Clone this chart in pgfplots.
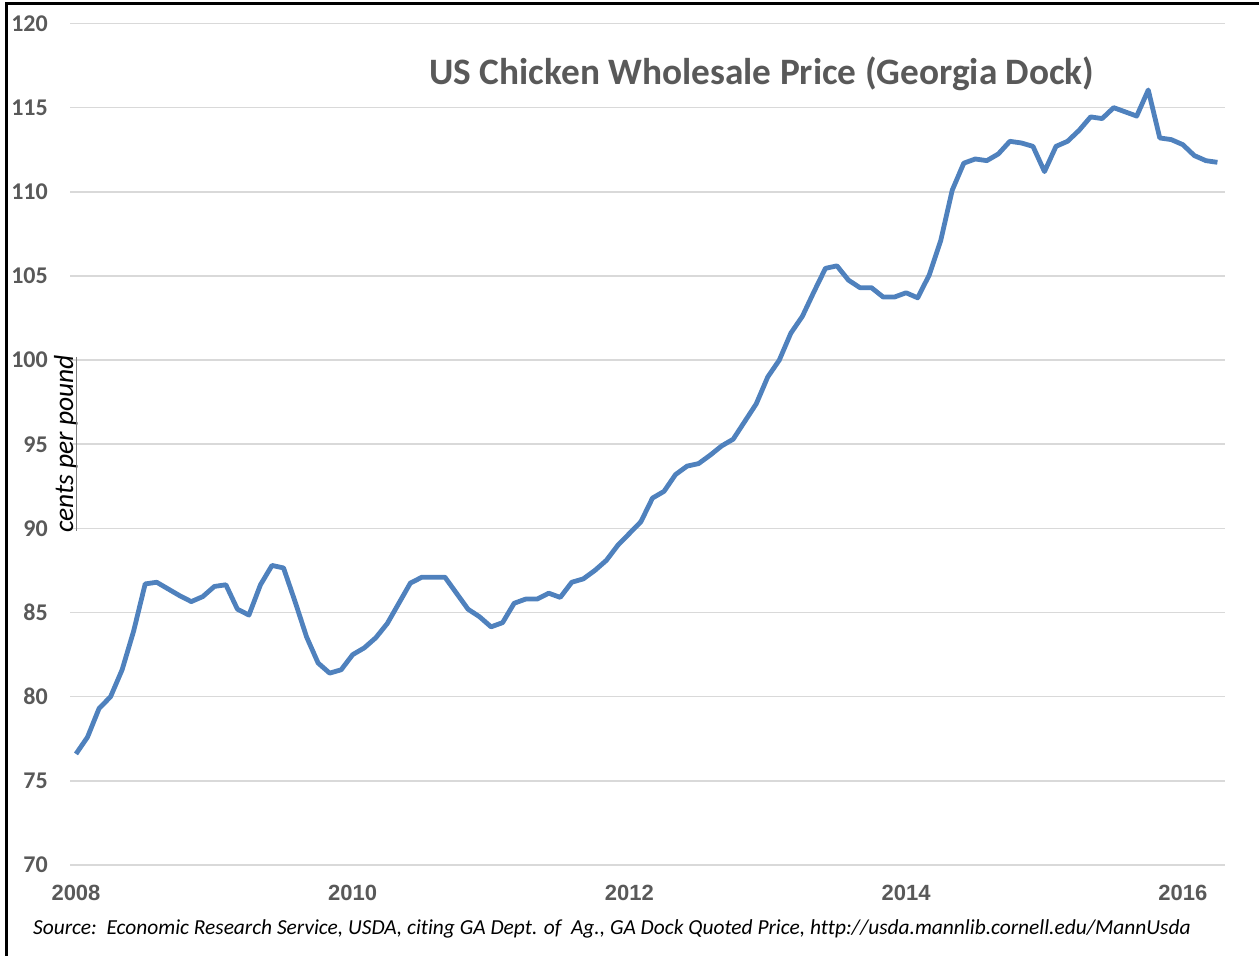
\documentclass[border=0pt]{standalone}
\usepackage{pgfplots}
\pgfplotsset{compat=1.18}
\usepackage{fontspec}
\setmainfont{Carlito}[Ligatures=NoCommon]
\newfontfamily\arialfont{Liberation Sans}
\definecolor{linec}{HTML}{4F81BD}
\definecolor{txtgray}{HTML}{595959}
\definecolor{gridc}{HTML}{D9D9D9}
\definecolor{barc}{HTML}{7F7F7F}

\pgfplotstableread{
m v
0 76.6
1 77.6
2 79.3
3 80.0
4 81.6
5 83.9
6 86.7
7 86.8
8 86.4
9 86.0
10 85.65
11 85.95
12 86.55
13 86.65
14 85.2
15 84.85
16 86.65
17 87.8
18 87.65
19 85.65
20 83.55
21 82.0
22 81.4
23 81.6
24 82.5
25 82.9
26 83.5
27 84.35
28 85.55
29 86.75
30 87.1
31 87.1
32 87.1
33 86.15
34 85.2
35 84.75
36 84.15
37 84.4
38 85.55
39 85.8
40 85.8
41 86.15
42 85.9
43 86.8
44 87.0
45 87.5
46 88.1
47 89.0
48 89.7
49 90.4
50 91.8
51 92.2
52 93.2
53 93.7
54 93.85
55 94.35
56 94.9
57 95.3
58 96.35
59 97.4
60 99.0
61 100.0
62 101.6
63 102.6
64 104.05
65 105.45
66 105.6
67 104.75
68 104.3
69 104.3
70 103.75
71 103.75
72 104.0
73 103.7
74 105.05
75 107.1
76 110.1
77 111.7
78 111.95
79 111.85
80 112.25
81 113.0
82 112.9
83 112.7
84 111.2
85 112.7
86 113.0
87 113.65
88 114.45
89 114.35
90 115.0
91 114.75
92 114.5
93 116.05
94 113.2
95 113.1
96 112.8
97 112.15
98 111.85
99 111.75
}\pricetable

\begin{document}
\begin{tikzpicture}[x=1pt,y=1pt]
\path[use as bounding box] (0,0) rectangle (1259,956);
\begin{axis}[
  at={(70pt,91pt)}, anchor=south west,
  scale only axis, width=1155pt, height=841.5pt,
  xmin=-0.52, xmax=99.65, ymin=70, ymax=120,
  axis line style={draw=none},
  ytick={70,75,...,120},
  xtick={0,24,48,72,96},
  xticklabels={2008,2010,2012,2014,2016},
  major tick length=0pt,
  ymajorgrids, grid style={gridc, line width=1.5pt},
  /pgf/number format/assume math mode=true,
  yticklabel style={font=\fontsize{24}{24}\selectfont\bfseries, text=txtgray, anchor=east, inner sep=0pt, xshift=-22pt},
  xticklabel style={font=\arialfont\fontsize{22}{22}\selectfont\bfseries, text=txtgray, anchor=north, inner sep=0pt, yshift=-20pt},
  clip=false,
]
\addplot[linec, line width=4.8pt, line join=round, no markers] table[x=m, y=v] {\pricetable};
\end{axis}
\node[anchor=base, font=\fontsize{37.3}{37.3}\selectfont\bfseries, text=txtgray, inner sep=0pt] at (762, 871) {US Chicken Wholesale Price (Georgia Dock)};
\node[anchor=base west, font=\fontsize{21.4}{21.4}\selectfont\itshape, inner sep=0pt] at (33, 21) {Source:\ \ Economic Research Service, USDA, citing GA Dept. of\ \ Ag., GA Dock Quoted Price, http://usda.mannlib.cornell.edu/MannUsda};
\node[anchor=base, rotate=90, font=\fontsize{27.5}{27.5}\selectfont\itshape, inner sep=0pt] at (73, 512) {cents per pound};
\draw[barc, line width=1.5pt] (76.5, 599) -- (76.5, 425);
\draw[black, line width=3pt] (6, 0) -- (6, 952.5) -- (1259, 952.5);
\end{tikzpicture}
\end{document}
